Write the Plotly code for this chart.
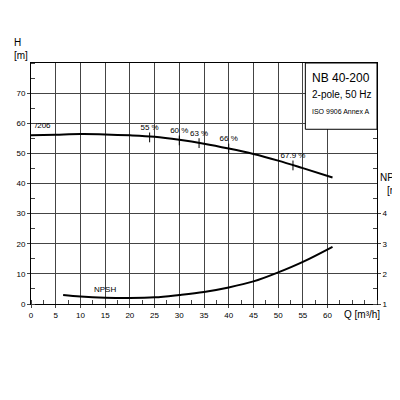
import plotly.graph_objects as go

q_h = [0, 5, 10, 15, 20, 25, 30, 35, 40, 45, 50, 55, 61]
h = [56, 56.2, 56.4, 56.3, 56, 55.5, 54.5, 53.2, 51.6, 49.8, 47.6, 45.1, 42]
q_n = [6.5, 10, 15, 20, 25, 30, 35, 40, 45, 50, 55, 61]
npsh = [1.3, 1.25, 1.21, 1.2, 1.22, 1.3, 1.4, 1.55, 1.75, 2.05, 2.4, 2.9]
eff_q = [24, 30, 34, 40, 53]
eff_h = [55.3, 54.3, 53.4, 51.6, 46]
eff_lbl = ["55 %", "60 %", "63 %", "66 %", "67.9 %"]

F = "Liberation Sans Narrow, Arial Narrow, Liberation Sans, sans-serif"
fig = go.Figure()
fig.add_trace(go.Scatter(x=q_h, y=h, mode="lines", line=dict(color="black", width=2, shape="spline"), showlegend=False))
fig.add_trace(go.Scatter(x=q_n, y=npsh, yaxis="y2", mode="lines", line=dict(color="black", width=2, shape="spline"), showlegend=False))
fig.add_trace(go.Scatter(x=eff_q, y=eff_h, mode="markers+text", text=eff_lbl, textposition="top center",
                         textfont=dict(size=8, family=F, color="black"), marker=dict(symbol="line-ns", size=7, line=dict(width=1, color="black")),
                         showlegend=False))
fig.add_annotation(x=0.5, y=57, text="/206", showarrow=False, xanchor="left", yanchor="bottom", font=dict(size=8, family=F))
fig.add_annotation(x=15, y=1.25, yref="y2", text="NPSH", showarrow=False, yanchor="bottom", font=dict(size=8, family=F))
fig.add_shape(type="rect", x0=55.5, x1=70, y0=58, y1=80, fillcolor="white", line=dict(color="black", width=1), layer="above")
fig.add_annotation(x=62.75, y=75, text="NB 40-200", showarrow=False, font=dict(size=12, family=F))
fig.add_annotation(x=62.75, y=69.5, text="2-pole, 50 Hz", showarrow=False, font=dict(size=10, family=F))
fig.add_annotation(x=62.75, y=64, text="ISO 9906 Annex A", showarrow=False, font=dict(size=7, family=F))
fig.add_annotation(xref="paper", yref="paper", x=0, y=1.0, text="H<br>[m]", showarrow=False, xanchor="center", yanchor="bottom", align="left", font=dict(size=10, family=F), xshift=-10)
fig.add_annotation(xref="paper", x=1, y=40, text="NPSH<br>[m]", showarrow=False, xanchor="left", font=dict(size=10, family=F), xshift=1)
fig.add_annotation(x=63, yref="paper", y=0, text="Q [m³/h]", showarrow=False, xanchor="left", yanchor="top", font=dict(size=10, family=F), yshift=-3)

fig.update_layout(
    width=400, height=400, margin=dict(l=23, r=31, t=55, b=104),
    plot_bgcolor="white", paper_bgcolor="white", font=dict(family=F, size=8, color="black"),
    xaxis=dict(range=[0, 70], tickvals=list(range(0, 65, 5)), showgrid=True, gridcolor="#444", gridwidth=1,
               showline=True, linecolor="black", mirror=True, ticks="outside", ticklen=3, automargin=False,
               minor=dict(dtick=2.5, ticks="inside", ticklen=4, showgrid=False), zeroline=False),
    yaxis=dict(range=[0, 80], tickvals=list(range(0, 80, 10)), showgrid=True, gridcolor="#444",
               showline=True, linecolor="black", ticks="outside", ticklen=3, automargin=False,
               minor=dict(dtick=5, ticks="inside", ticklen=4), zeroline=False),
    yaxis2=dict(overlaying="y", side="right", range=[1, 9], tickvals=[1, 2, 3, 4], showgrid=False,
                showline=True, linecolor="black", ticks="outside", ticklen=3, automargin=False,
                minor=dict(dtick=0.5, ticks="inside", ticklen=4), zeroline=False),
)
fig.write_html("out.html")
